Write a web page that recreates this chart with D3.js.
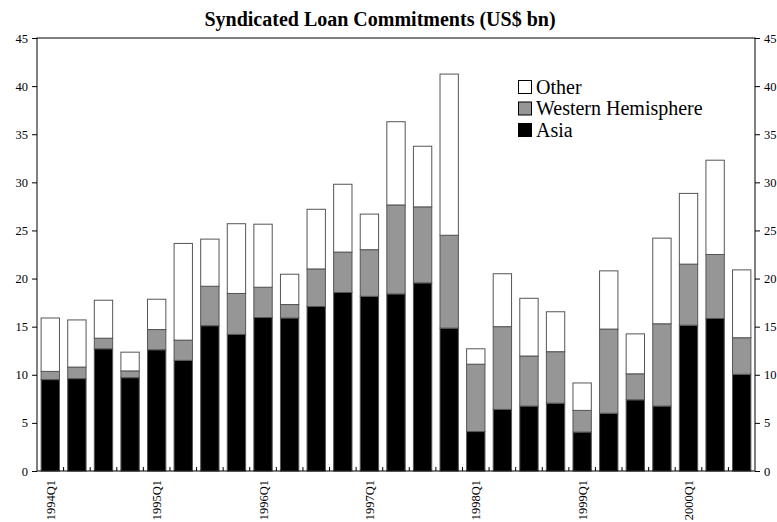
<!DOCTYPE html>
<html>
<head>
<meta charset="utf-8">
<script src="https://cdn.jsdelivr.net/npm/d3@7"></script>
<style>
  html, body { margin: 0; padding: 0; background: #fff; }
  svg { display: block; }
  text { font-family: "Liberation Serif", "Times New Roman", serif; fill: #000; }
</style>
</head>
<body>
<svg id="chart" width="777" height="522"></svg>
<script>
const categories = [
  "1994Q1","1994Q2","1994Q3","1994Q4",
  "1995Q1","1995Q2","1995Q3","1995Q4",
  "1996Q1","1996Q2","1996Q3","1996Q4",
  "1997Q1","1997Q2","1997Q3","1997Q4",
  "1998Q1","1998Q2","1998Q3","1998Q4",
  "1999Q1","1999Q2","1999Q3","1999Q4",
  "2000Q1","2000Q2","2000Q3"
];
const asia = [9.5, 9.6, 12.7, 9.7, 12.6, 11.5, 15.1, 14.2, 15.95, 15.9, 17.1, 18.55, 18.15, 18.4, 19.55, 14.85, 4.1, 6.4, 6.75, 7.05, 4.05, 6.0, 7.4, 6.75, 15.15, 15.85, 10.05];
const western = [0.85, 1.2, 1.1, 0.7, 2.1, 2.1, 4.1, 4.25, 3.15, 1.4, 3.9, 4.2, 4.85, 9.25, 7.9, 9.65, 7.0, 8.6, 5.2, 5.35, 2.25, 8.75, 2.7, 8.55, 6.35, 6.65, 3.8];
const other = [5.55, 4.9, 3.95, 1.95, 3.15, 10.05, 4.9, 7.25, 6.55, 3.15, 6.2, 7.05, 3.7, 8.65, 6.3, 16.75, 1.6, 5.5, 6.0, 4.15, 2.85, 6.05, 4.15, 8.9, 7.35, 9.8, 7.05];
const seriesNames = ["Asia", "Western Hemisphere", "Other"];
const seriesColors = ["#000000", "#969696", "#ffffff"];
const yTicks = [0, 5, 10, 15, 20, 25, 30, 35, 40, 45];
const title = "Syndicated Loan Commitments (US$ bn)";

const FONT = '"Liberation Serif", "Times New Roman", serif';
const svg = d3.select("#chart");
const L = 37, R = 755, T = 38, B = 471;

const x = d3.scaleBand().domain(categories).range([L, R]).paddingInner(0.31).paddingOuter(0.155);
const y = d3.scaleLinear().domain([0, 45]).range([B, T]);

const rows = categories.map((c, i) => ({ cat: c, Asia: asia[i], "Western Hemisphere": western[i], Other: other[i] }));
const stack = d3.stack().keys(seriesNames)(rows);

// bars
const g = svg.append("g");
stack.forEach((layer, li) => {
  g.selectAll(null).data(layer).enter().append("rect")
    .attr("x", d => x(d.data.cat))
    .attr("width", x.bandwidth())
    .attr("y", d => y(d[1]))
    .attr("height", d => y(d[0]) - y(d[1]))
    .attr("fill", seriesColors[li])
    .attr("stroke", "#555")
    .attr("stroke-width", 1);
});

// frame
svg.append("rect").attr("x", L).attr("y", T).attr("width", R - L).attr("height", B - T)
  .attr("fill", "none").attr("stroke", "#000").attr("stroke-width", 1);

// left axis
const yl = svg.append("g").attr("transform", `translate(${L},0)`)
  .call(d3.axisLeft(y).tickValues(yTicks).tickSize(5).tickPadding(4).tickFormat(d3.format("d")))
  .attr("font-family", FONT).attr("font-size", 12.5);
yl.select(".domain").remove();

// right axis
const yr = svg.append("g").attr("transform", `translate(${R},0)`)
  .call(d3.axisRight(y).tickValues(yTicks).tickSize(5).tickPadding(4).tickFormat(d3.format("d")))
  .attr("font-family", FONT).attr("font-size", 12.5);
yr.select(".domain").remove();

// x-axis boundary ticks (inside)
const step = x.step();
const x0 = x(categories[0]) - x.paddingOuter() * step;
const bounds = d3.range(1, categories.length).map(i => x0 + i * step);
svg.append("g").selectAll("line").data(bounds).enter().append("line")
  .attr("x1", d => d).attr("x2", d => d)
  .attr("y1", B).attr("y2", B - 4)
  .attr("stroke", "#000").attr("stroke-width", 1);

// x labels (Q1 only)
svg.append("g").attr("font-family", FONT).attr("font-size", 12.5)
  .selectAll("text").data(categories.filter(c => c.endsWith("Q1"))).enter().append("text")
  .attr("transform", d => `translate(${x(d) + x.bandwidth() / 2 + 4.5},${B + 9}) rotate(-90)`)
  .attr("text-anchor", "end")
  .text(d => d);

// title
svg.append("text").attr("x", 380).attr("y", 25.5).attr("text-anchor", "middle")
  .attr("font-family", FONT).attr("font-size", 20).attr("font-weight", "bold").text(title);

// legend
const legendOrder = ["Other", "Western Hemisphere", "Asia"];
const lg = svg.append("g").attr("font-family", FONT).attr("font-size", 20);
legendOrder.forEach((name, i) => {
  const cy = 87 + i * 21.5;
  lg.append("rect").attr("x", 518.5).attr("y", cy - 6.5).attr("width", 13).attr("height", 13)
    .attr("fill", seriesColors[seriesNames.indexOf(name)]).attr("stroke", "#000").attr("stroke-width", 1);
  lg.append("text").attr("x", 536).attr("y", cy + 6.5).text(name);
});
</script>
</body>
</html>
